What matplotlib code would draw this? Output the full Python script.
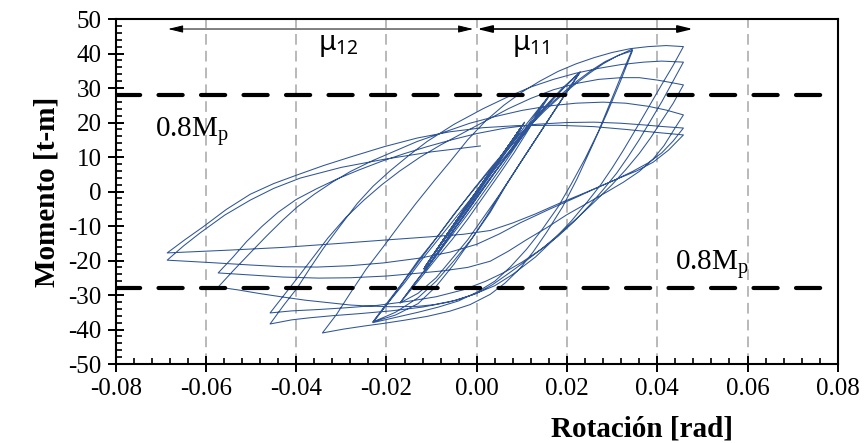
import matplotlib
matplotlib.use("Agg")
import matplotlib.pyplot as plt
from matplotlib.ticker import MultipleLocator, FormatStrFormatter

plt.rcParams['axes.unicode_minus'] = False

# ---------------- data (rotation [rad], moment [t-m]) ----------------
elastic_rot = [0.0, 0.005, 0.0096,
               0.0058, 0.0, -0.0062, -0.0112,
               -0.0068, -0.0008, 0.0050, 0.0098,
               0.0059, 0.0001, -0.0061, -0.0114,
               -0.0070, -0.0010, 0.0049, 0.0100,
               0.0061, 0.0002, -0.0060, -0.0115,
               -0.0071, -0.0011, 0.0049, 0.0102,
               0.0062, 0.0003, -0.0059, -0.0116,
               -0.0072, -0.0012, 0.0050, 0.0104,
               0.0063, 0.0003, -0.0060, -0.0117,
               -0.0069, -0.0006, 0.0052, 0.0099,
               0.0060, -0.0002, -0.0063, -0.0113,
               -0.0067, -0.0004, 0.0053, 0.0101,
               0.0058, -0.0004, -0.0064, -0.0115,
               -0.0073, -0.0013, 0.0050, 0.0106,
               0.0064, 0.0004, -0.0060, -0.0117]
elastic_mom = [0.0, 9.3, 17.8,
               10.5, -0.5, -12.0, -21.3,
               -12.8, -1.3, 9.5, 18.5,
               11.0, -0.3, -11.7, -21.7,
               -13.2, -1.7, 9.3, 18.9,
               11.3, 0.0, -11.4, -22.0,
               -13.4, -2.0, 9.2, 19.3,
               11.5, 0.2, -11.2, -22.2,
               -13.6, -2.2, 9.4, 19.7,
               11.8, 0.3, -11.3, -22.4,
               -13.0, -1.0, 9.9, 18.6,
               11.0, -0.6, -12.2, -21.6,
               -12.6, -0.7, 10.1, 19.0,
               10.8, -0.8, -12.4, -22.0,
               -13.8, -2.4, 9.4, 20.1,
               12.0, 0.5, -11.3, -22.5]

small_rot = [-0.009, -0.006, -0.003, 0.0, 0.003, 0.006, 0.0085, 0.011, 0.0136, 0.0162,
             0.014, 0.012, 0.009, 0.006, 0.003, 0.0, -0.003, -0.006, -0.009, -0.0115,
             -0.008, -0.005, -0.002, 0.001, 0.004, 0.007, 0.0095, 0.012, 0.0142, 0.0162,
             0.0138, 0.0115, 0.0083, 0.005, 0.0015, -0.002, -0.0055, -0.009, -0.013, -0.017,
             -0.014, -0.011, -0.0075, -0.004, -0.0005, 0.003, 0.0065, 0.010, 0.013, 0.016, 0.0195, 0.0229,
             0.0205, 0.018, 0.015, 0.012, 0.0085, 0.005, 0.0015, -0.002, -0.0055, -0.009, -0.013, -0.017,
             -0.014, -0.0105, -0.007, -0.003, 0.0005, 0.004, 0.0075, 0.011, 0.014, 0.017, 0.020, 0.0229,
             0.020, 0.017, 0.0135, 0.010, 0.0065, 0.003, -0.001, -0.005, -0.009, -0.013, -0.018, -0.023,
             -0.0195, -0.016, -0.012, -0.008, -0.004, 0.0, 0.004, 0.008, 0.0115, 0.015, 0.019, 0.0229,
             0.0198, 0.0165, 0.013, 0.0095, 0.0058, 0.002, -0.0015, -0.005, -0.009, -0.013, -0.018, -0.023]
small_mom = [-17.0, -12.0, -6.5, -1.0, 4.8, 10.5, 15.2, 19.5, 23.8, 28.0,
             24.0, 19.5, 13.8, 8.0, 2.5, -3.0, -8.3, -13.5, -18.5, -23.0,
             -17.0, -11.0, -5.5, 0.0, 5.5, 11.0, 15.8, 20.5, 24.5, 28.0,
             23.0, 18.0, 11.3, 5.0, -1.5, -8.0, -14.0, -19.5, -26.0, -32.3,
             -27.0, -22.0, -15.5, -9.0, -2.5, 4.0, 10.0, 16.0, 21.0, 25.5, 30.3, 34.6,
             30.0, 25.0, 19.0, 13.0, 6.0, -1.0, -7.5, -14.0, -19.5, -25.0, -29.5, -32.3,
             -27.0, -21.0, -14.5, -7.5, -1.0, 5.5, 11.5, 17.5, 22.5, 27.0, 31.0, 34.6,
             29.0, 23.0, 16.0, 9.0, 1.8, -6.0, -13.5, -20.0, -26.0, -30.8, -35.0, -37.8,
             -32.0, -26.5, -19.5, -13.0, -6.5, 0.0, 6.5, 13.0, 18.8, 24.5, 30.0, 34.6,
             28.5, 22.0, 15.0, 8.0, 0.5, -7.5, -14.5, -21.0, -27.5, -32.5, -35.8, -37.8]

mid_rot = [-0.020, -0.0165, -0.013, -0.009, -0.005, -0.001, 0.003, 0.007, 0.011, 0.015, 0.0185,
           0.022, 0.025, 0.028, 0.031, 0.0345,
           0.032, 0.0295, 0.027, 0.024, 0.021, 0.018, 0.0145, 0.011, 0.0075, 0.004, 0.0,
           -0.004, -0.0085, -0.013, -0.018, -0.023,
           -0.0195, -0.016, -0.0123, -0.0085, -0.0045, -0.0005, 0.0035, 0.0075, 0.0115, 0.0155,
           0.019, 0.0225, 0.0255, 0.0285, 0.0315, 0.0345,
           0.0318, 0.0289, 0.0255, 0.0222, 0.019, 0.0155, 0.0125, 0.0096, 0.0063, 0.003,
           -0.0015, -0.006, -0.011, -0.016, -0.0205, -0.025, -0.0296, -0.0342]
mid_mom = [-32.5, -26.5, -20.0, -13.5, -6.5, 0.0, 6.3, 12.3, 18.0, 23.3, 27.5,
           31.3, 34.3, 37.0, 39.2, 41.3,
           33.5, 25.5, 17.5, 9.5, 2.3, -4.5, -11.0, -16.8, -21.8, -26.0, -29.2,
           -31.7, -33.5, -35.0, -36.5, -38.0,
           -32.0, -25.8, -19.3, -12.7, -5.8, 1.0, 7.5, 13.6, 19.3, 24.4,
           28.5, 32.3, 35.2, 37.7, 39.5, 40.8,
           31.8, 22.8, 13.0, 3.6, -4.5, -11.8, -17.5, -22.3, -26.5, -29.8,
           -32.8, -34.7, -36.2, -37.3, -38.2, -39.0, -39.9, -41.0]

large_rot = [-0.031, -0.028, -0.0245, -0.0207, -0.017, -0.0135, -0.0095, -0.006, -0.002, 0.002,
             0.006, 0.010, 0.014, 0.018, 0.022, 0.026, 0.030, 0.034, 0.038, 0.042, 0.0458,
             0.0435, 0.041, 0.039, 0.037, 0.035, 0.0325, 0.030, 0.0275, 0.0245, 0.021, 0.017,
             0.013, 0.008, 0.004, -0.001, -0.006, -0.012, -0.019, -0.026, -0.032, -0.037, -0.041, -0.0458,
             -0.0428, -0.0398, -0.037, -0.034, -0.030, -0.0265, -0.023, -0.0192, -0.015, -0.011,
             -0.005, 0.0014, 0.007, 0.012, 0.017, 0.022, 0.027, 0.032, 0.037, 0.041, 0.0458,
             0.0433, 0.041, 0.0385, 0.036, 0.0335, 0.031, 0.028, 0.025, 0.0215, 0.018, 0.014,
             0.010, 0.006, 0.002, -0.003, -0.009, -0.015, -0.022, -0.029, -0.035, -0.041, -0.0458]
large_mom = [-35.5, -29.4, -22.5, -16.0, -9.5, -3.5, 3.0, 8.5, 15.0, 20.5,
             25.0, 28.8, 32.0, 34.8, 37.0, 38.8, 40.3, 41.4, 42.0, 42.3, 42.0,
             36.5, 31.0, 26.5, 22.0, 17.5, 12.0, 6.8, 2.0, -3.0, -8.5, -14.0,
             -19.0, -24.0, -27.3, -30.0, -32.0, -33.5, -34.6, -35.4, -36.0, -36.6, -37.2, -38.4,
             -33.0, -28.0, -22.3, -16.5, -9.5, -3.5, 1.5, 6.0, 10.5, 14.5,
             19.5, 24.0, 27.5, 30.3, 32.5, 34.3, 35.7, 36.8, 37.5, 37.8, 37.5,
             31.5, 26.0, 20.5, 15.0, 10.0, 5.3, 0.5, -4.0, -8.8, -13.0, -17.0,
             -20.5, -23.5, -26.0, -28.5, -30.5, -31.8, -33.0, -33.7, -34.2, -34.6, -35.2]

degr_rot = [-0.043, -0.040, -0.0365, -0.033, -0.029, -0.025, -0.021, -0.017, -0.0125, -0.008,
            -0.003, 0.002, 0.007, 0.012, 0.017, 0.022, 0.027, 0.032, 0.036, 0.040, 0.043, 0.0458,
            0.0435, 0.041, 0.0385, 0.036, 0.033, 0.030, 0.0265, 0.023, 0.019, 0.015, 0.011,
            0.007, 0.0035, 0.0, -0.0045, -0.0095, -0.0132, -0.019, -0.024, -0.028, -0.033,
            -0.038, -0.0429, -0.048, -0.053, -0.0573,
            -0.054, -0.0502, -0.0465, -0.043, -0.0398, -0.036, -0.032, -0.028, -0.023, -0.018,
            -0.0132, -0.007, -0.0015, 0.004, 0.010, 0.016, 0.022, 0.028, 0.033, 0.038, 0.042, 0.0458,
            0.0435, 0.0415, 0.039, 0.036, 0.0325, 0.029, 0.025, 0.020, 0.0155, 0.011, 0.007,
            0.003, -0.002, -0.0075, -0.0132, -0.020, -0.028, -0.035, -0.0429, -0.050, -0.0573,
            -0.054, -0.051, -0.0475, -0.044, -0.040, -0.0355, -0.031, -0.026, -0.021, -0.016,
            -0.011, -0.0055, 0.0, 0.006, 0.0133, 0.020, 0.026, 0.0318, 0.037, 0.0415, 0.0458,
            0.0435, 0.041, 0.038, 0.0345, 0.031, 0.027, 0.023, 0.018, 0.013, 0.008, 0.003,
            -0.003, -0.010, -0.0207, -0.031, -0.0429, -0.055, -0.0686,
            -0.0647, -0.0607, -0.0555, -0.0502, -0.045, -0.0398, -0.034, -0.028, -0.0205, -0.0132,
            -0.006, 0.0014, 0.009, 0.018, 0.026, 0.033, 0.040, 0.0458,
            0.0425, 0.0391, 0.0355, 0.0318, 0.027, 0.0222, 0.016, 0.0096, 0.005, 0.0, -0.006,
            -0.0126, -0.0207, -0.028, -0.0354, -0.043, -0.0502, -0.059, -0.0686,
            -0.065, -0.0613, -0.0558, -0.0502, -0.045, -0.0391, -0.030, -0.0207, -0.010, 0.0008]
degr_mom = [-30.5, -25.5, -19.5, -13.5, -7.5, -2.5, 2.0, 6.0, 10.0, 13.5,
            17.0, 20.5, 24.0, 27.0, 29.5, 31.3, 32.5, 33.0, 33.0, 32.3, 31.6, 30.9,
            25.5, 20.5, 15.5, 11.0, 6.3, 2.0, -2.5, -6.8, -11.5, -16.0, -20.0,
            -23.8, -27.0, -29.5, -31.5, -32.8, -33.3, -33.4, -33.2, -32.9, -32.2,
            -31.5, -30.6, -29.6, -28.5, -27.7,
            -23.0, -17.8, -12.8, -8.3, -4.5, -0.8, 2.7, 5.8, 9.0, 11.8,
            14.5, 17.3, 19.8, 21.7, 23.5, 24.8, 25.6, 25.9, 25.6, 24.7, 23.6, 22.2,
            17.5, 13.3, 9.3, 5.8, 2.7, 0.0, -3.0, -6.7, -10.5, -14.0, -17.3,
            -20.2, -22.0, -23.0, -23.7, -24.5, -25.0, -25.1, -24.8, -24.2, -23.6,
            -19.0, -14.5, -10.0, -6.0, -2.3, 0.8, 3.6, 6.3, 8.8, 11.0,
            13.0, 15.0, 16.8, 18.3, 19.5, 20.0, 20.1, 19.8, 19.3, 18.8, 18.4,
            14.6, 11.2, 8.3, 5.8, 3.6, 1.3, -0.9, -3.6, -6.5, -9.1, -11.3,
            -12.4, -13.1, -14.1, -15.1, -16.2, -17.0, -17.8,
            -14.0, -10.3, -5.2, -0.8, 2.3, 4.8, 7.5, 10.0, 13.0, 15.5,
            17.3, 18.5, 19.1, 19.2, 18.8, 18.0, 17.1, 16.4,
            12.0, 8.5, 6.0, 4.0, 1.3, -1.6, -5.2, -9.1, -12.3, -15.3, -17.6,
            -19.3, -20.7, -21.5, -21.9, -21.8, -21.3, -20.6, -19.9,
            -15.8, -12.0, -6.8, -2.5, 0.9, 3.9, 7.0, 9.3, 11.5, 13.2]

limit_mom = [28.0, -28.0]            # 0.8 Mp lines
x_ticks = [-0.08, -0.06, -0.04, -0.02, 0.00, 0.02, 0.04, 0.06, 0.08]
y_ticks = [-50, -40, -30, -20, -10, 0, 10, 20, 30, 40, 50]
grid_x = [-0.06, -0.04, -0.02, 0.00, 0.02, 0.04, 0.06]
mu12_span = [-0.0684, -0.0008]
mu11_span = [0.0001, 0.0479]

# ---------------- figure ----------------
fig = plt.figure(figsize=(8.65, 4.43), dpi=100)
ax = fig.add_axes([0.1338, 0.1783, 0.8347, 0.7788])

serif = 'Liberation Serif'

for gx in grid_x:
    ax.axvline(gx, color='#A6A6A6', lw=1.1, ls=(0, (7, 4)), zorder=1)

rot = elastic_rot + small_rot + mid_rot + large_rot + degr_rot
mom = elastic_mom + small_mom + mid_mom + large_mom + degr_mom
ax.plot(rot, mom, color='#2F5597', lw=0.75, zorder=3, solid_joinstyle='round')

for m in limit_mom:
    ax.axhline(m, color='black', lw=3.0, ls=(0, (5.8, 4.4)), dash_capstyle='round', zorder=4)

ax.set_xlim(x_ticks[0], x_ticks[-1])
ax.set_ylim(y_ticks[0], y_ticks[-1])
ax.set_xticks(x_ticks)
ax.set_yticks(y_ticks)
ax.xaxis.set_minor_locator(MultipleLocator(0.004))
ax.yaxis.set_minor_locator(MultipleLocator(2))
ax.xaxis.set_major_formatter(FormatStrFormatter('%.2f'))
ax.yaxis.set_major_formatter(FormatStrFormatter('%d'))

ax.tick_params(which='major', direction='inout', length=12, width=1.4, labelsize=18, pad=4)
ax.tick_params(which='minor', direction='in', length=4.5, width=1.2)
for lab in ax.get_xticklabels() + ax.get_yticklabels():
    lab.set_fontfamily(serif)
for s in ax.spines.values():
    s.set_linewidth(1.5)

ax.set_xlabel('Rotación [rad]', fontfamily=serif, fontweight='bold', fontsize=21)
ax.xaxis.set_label_coords(0.729, -0.15)
ax.set_ylabel('Momento [t-m]', fontfamily=serif, fontweight='bold', fontsize=21, labelpad=6)

# annotations
ax.text(-0.0713, 15.8, r'0.8M$\mathregular{_p}$', fontfamily=serif, fontsize=21, va='baseline', ha='left')
ax.text(0.0440, -22.75, r'0.8M$\mathregular{_p}$', fontfamily=serif, fontsize=21, va='baseline', ha='left')

ax.annotate('', xy=(mu12_span[0], 47.1), xytext=(mu12_span[1], 47.1),
            arrowprops=dict(arrowstyle='<|-|>,head_length=0.9,head_width=0.22', lw=0.7,
                            color='black', shrinkA=0, shrinkB=0))
ax.annotate('', xy=(mu11_span[0], 47.1), xytext=(mu11_span[1], 47.1),
            arrowprops=dict(arrowstyle='<|-|>,head_length=0.9,head_width=0.22', lw=1.2,
                            color='black', shrinkA=0, shrinkB=0))
ax.text(-0.0352, 41.0, r'μ$\mathregular{_{12}}$', fontfamily='Noto Sans', fontsize=20, va='baseline', ha='left')
ax.text(0.0078, 41.0, r'μ$\mathregular{_{11}}$', fontfamily='Noto Sans', fontsize=20, va='baseline', ha='left')

fig.savefig('out.png', dpi=100)
